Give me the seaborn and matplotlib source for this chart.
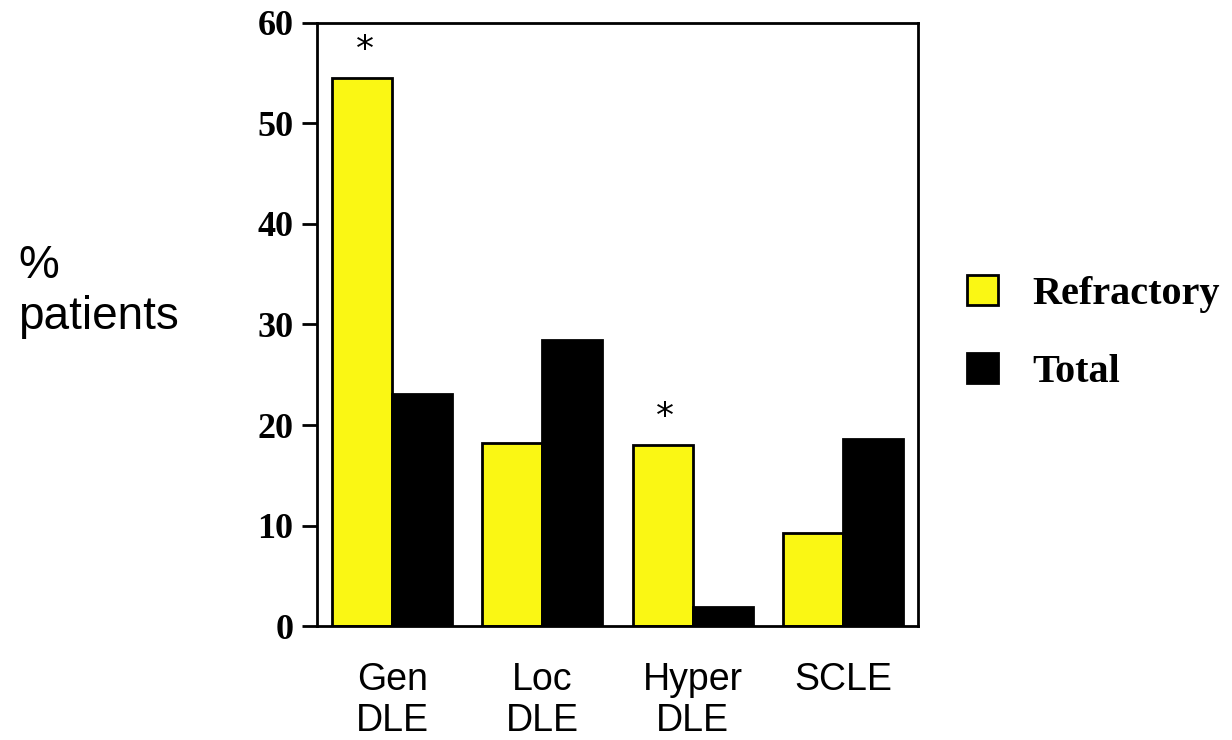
import matplotlib
matplotlib.use("Agg")
import matplotlib.pyplot as plt
import seaborn as sns
import pandas as pd

# Lupus subtype frequencies (% of patients)
categories = ["Gen\nDLE", "Loc\nDLE", "Hyper\nDLE", "SCLE"]
refractory = [54.5, 18.2, 18.0, 9.3]
total = [23.1, 28.5, 1.9, 18.6]
groups = ["Refractory", "Total"]
significant = [True, False, True, False]
y_ticks = [0, 10, 20, 30, 40, 50, 60]

df = pd.DataFrame({
    "category": categories * 2,
    "group": [groups[0]] * len(categories) + [groups[1]] * len(categories),
    "value": refractory + total,
})

sns.set_theme(style="white")
plt.rcParams["font.family"] = ["Liberation Sans", "DejaVu Sans"]
plt.rcParams["text.color"] = "black"
plt.rcParams["xtick.color"] = "black"
plt.rcParams["ytick.color"] = "black"
plt.rcParams["axes.labelcolor"] = "black"

fig = plt.figure(figsize=(12.32, 7.40), dpi=100)
ax = fig.add_axes([0.2573, 0.154, 0.4878, 0.815])

palette = {"Refractory": "#FAF714", "Total": "#000000"}
sns.barplot(data=df, x="category", y="value", hue="group", order=categories,
            hue_order=groups, palette=palette, width=0.8, saturation=1,
            edgecolor="black", linewidth=2, ax=ax, legend=True)

ax.set_xlim(-0.5, 3.5)
ax.set_ylim(0, 60)
ax.set_yticks(y_ticks)
ax.set_yticklabels([str(t) for t in y_ticks], fontfamily="Liberation Serif",
                   fontweight="bold", fontsize=26)
ax.set_xlabel("")
ax.set_ylabel("")
for lbl in ax.get_xticklabels():
    lbl.set_fontsize(27)
    lbl.set_linespacing(1.18)
    lbl.set_multialignment("center")
ax.tick_params(axis="x", length=0, pad=26)
ax.tick_params(axis="y", length=11, width=2, pad=6, direction="out", left=True)

for side in ["left", "right", "top", "bottom"]:
    ax.spines[side].set_visible(True)
    ax.spines[side].set_color("black")
    ax.spines[side].set_linewidth(2)

# Asterisks over significant refractory bars
refr_bars = ax.containers[0]
for bar, sig in zip(refr_bars, significant):
    if sig:
        ax.annotate("*", (bar.get_x() + bar.get_width() / 2, bar.get_height()),
                    xytext=(2, 8), textcoords="offset points",
                    ha="center", va="bottom", fontsize=26, color="black",
                    fontfamily="DejaVu Sans")

fig.text(18 / 1232, 1 - 244 / 740, "%\npatients", ha="left", va="top",
         fontsize=33, linespacing=1.2, color="black")

handles, labels = ax.get_legend_handles_labels()
ax.get_legend().remove()
fig.legend(handles, labels, loc="upper left",
           bbox_to_anchor=(967 / 1232, 1 - 275 / 740), frameon=False,
           prop={"family": "Liberation Serif", "weight": "bold", "size": 29},
           labelcolor="black",
           handlelength=0.77, handleheight=0.77, handletextpad=0.85,
           labelspacing=1.0, borderpad=0, borderaxespad=0)

fig.savefig("out.png", dpi=100)
